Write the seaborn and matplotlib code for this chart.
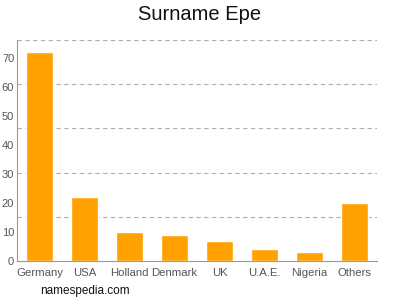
import numpy as np
import pandas as pd
import matplotlib
matplotlib.use("Agg")
import matplotlib.pyplot as plt
import seaborn as sns

countries = ['Germany', 'USA', 'Holland', 'Denmark', 'UK', 'U.A.E.', 'Nigeria', 'Others']
counts = [72, 22, 10, 9, 7, 4, 3, 20]
y_ticks = [0, 10, 20, 30, 40, 50, 60, 70]

df = pd.DataFrame({'Country': countries, 'Count': counts})

sns.set_style("white")
plt.rcParams['font.family'] = ['Liberation Sans', 'DejaVu Sans']

fig = plt.figure(figsize=(4, 3), dpi=100)
ax = fig.add_axes([0.0425, 0.13, 0.9, 0.7367])

sns.barplot(data=df, x='Country', y='Count', color='#ffa100', width=0.62,
            saturation=1, ax=ax, zorder=3)

ymax = 76.25
ax.set_ylim(0, ymax)
ax.set_xlim(-0.5, len(countries) - 0.5)

# dashed grid lines do not line up with the ticks in the original
for g in np.linspace(0, ymax, 6)[1:]:
    ax.axhline(g, color='#b0b0b0', linestyle=(0, (4, 3)), linewidth=0.8, zorder=1)

ax.set_yticks(y_ticks)
ax.set_xlabel('')
ax.set_ylabel('')
ax.tick_params(axis='y', labelsize=8, colors='#555555', length=0, pad=2)
ax.tick_params(axis='x', labelsize=8.2, colors='#555555', length=4, width=0.6,
               color='#999999', pad=1)
for s in ['top', 'right']:
    ax.spines[s].set_visible(False)
for s in ['left', 'bottom']:
    ax.spines[s].set_color('#999999')
    ax.spines[s].set_linewidth(0.8)

fig.text(0.5, 0.95, 'Surname Epe', ha='center', va='center', fontsize=14.5, color='#111111')
fig.text(0.1, 0.03, 'namespedia.com', ha='left', va='center', fontsize=8.5, color='#111111')

fig.savefig('out.png', dpi=100)
